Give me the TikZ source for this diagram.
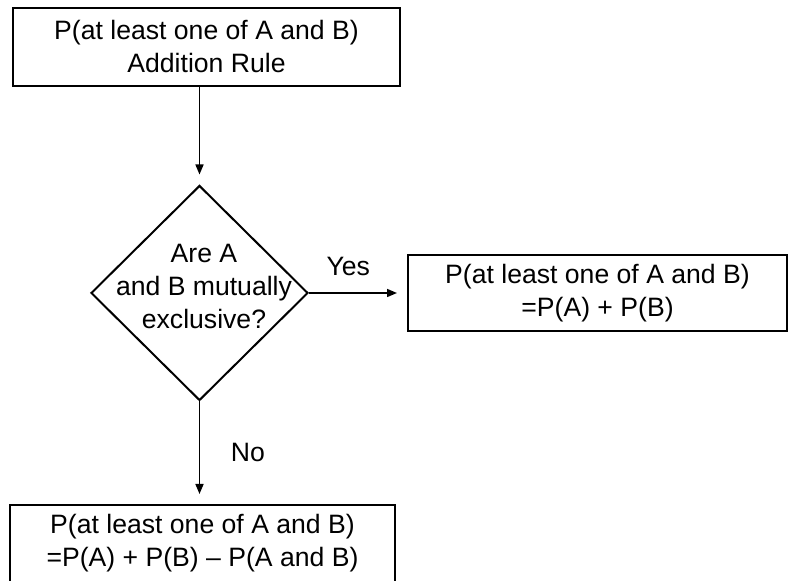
\documentclass[tikz,border=0pt]{standalone}
\usepackage{fontspec}
\setmainfont{Liberation Sans}
\usepackage{tikz}
\usetikzlibrary{shapes.geometric,arrows.meta}

\begin{document}
\begin{tikzpicture}[x=0.5pt, y=-0.5pt,
    every node/.style={font=\fontsize{13.3}{16.5}\selectfont, align=center},
    box/.style={draw, line width=1pt, inner sep=0pt},
    decision/.style={draw, diamond, line width=1pt, inner sep=0pt, minimum width=108.5pt, minimum height=107.5pt},
    flow/.style={line width=0.75pt, -{Triangle[length=5pt, width=4pt]}, shorten >=5pt}]
    % Frame of the picture
    \clip (0,0) rectangle (788,581);

    % Boxes and decision
    \node[box, minimum width=193.5pt, minimum height=39pt] (rule) at (206.5,47)
        {P(at least one of A and B)\\Addition Rule};
    \node[decision] (excl) at (199.5,293) {};
    \node (excltext) at (204,286) {Are A\\and B mutually\\exclusive?};
    \node[box, minimum width=189.5pt, minimum height=38pt] (yesbox) at (597.5,293)
        {P(at least one of A and B)\\=P(A) + P(B)};
    \node[box, minimum width=192.5pt, minimum height=38.5pt] (nobox) at (202.5,543.5)
        {P(at least one of A and B)\\=P(A) + P(B) -- P(A and B)};

    % Connectors
    \draw[flow] (rule.south -| excl.north) -- (excl.north);
    \draw[flow] (excl.east) -- (excl.east -| yesbox.west) node[pos=0.4, above=5pt] (yes) {Yes};
    \draw[flow] (excl.south) -- (excl.south |- nobox.north) node[midway, right=12pt] (no) {No};
\end{tikzpicture}
\end{document}
